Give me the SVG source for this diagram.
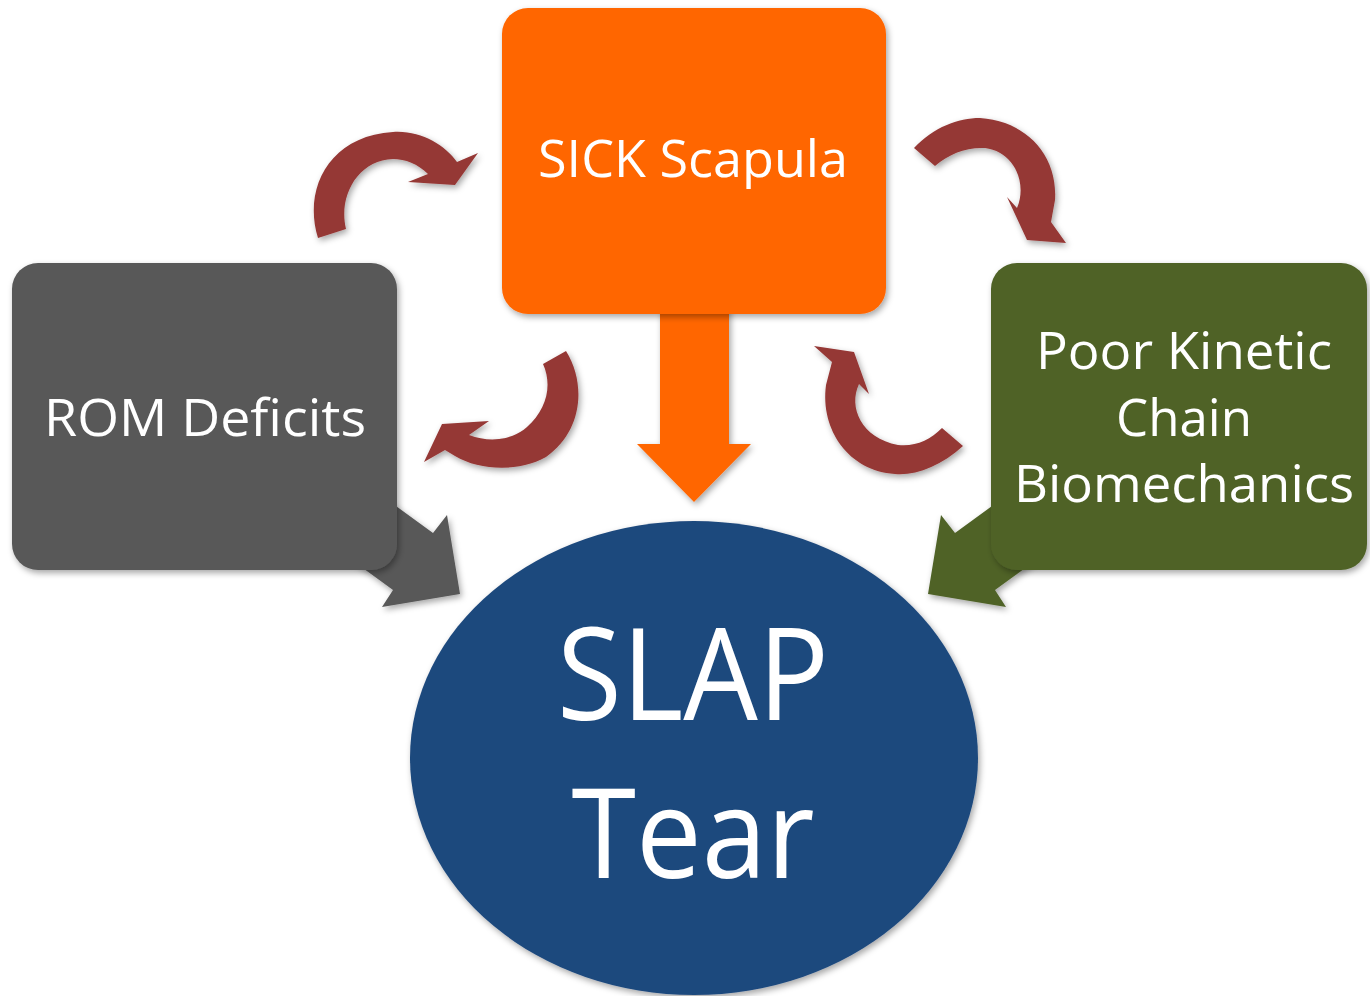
<svg xmlns="http://www.w3.org/2000/svg" width="1370" height="996" viewBox="0 0 1370 996">
<defs>
<filter id="sh" x="-20%" y="-20%" width="140%" height="140%">
<feDropShadow dx="2" dy="3" stdDeviation="3" flood-color="#000" flood-opacity="0.35"/>
</filter>
<style>
.lbl{font-family:"Open Sans","Noto Sans","DejaVu Sans",sans-serif;fill:#fff;text-anchor:middle}
.cyc{fill:#953735;filter:url(#sh)}
</style>
</defs>
<rect width="1370" height="996" fill="#fff"/>
<g id="connectors">
<polygon id="arrow-sick-slap" points="660,300 729,300 729,444 751,444 694,502 637,444 660,444" fill="#FF6600" filter="url(#sh)"/>
<polygon id="arrow-rom-slap" points="352,474 433,533 447,515 460,594 382,607 393,590 312,531" fill="#595959" filter="url(#sh)"/>
<polygon id="arrow-pkc-slap" points="1036,474 955,533 941,515 928,594 1006,607 995,590 1076,531" fill="#4F6228" filter="url(#sh)"/>
<path id="cyc-rom-sick" class="cyc" d="M318,238 C303,190 328,136 393,132 C420,130 445,145 457,162 L478,153 L455,185 L408,182 L428,174 C418,164 405,159 393,159 C358,160 338,196 346,229 Z"/>
<path id="cyc-sick-pkc" class="cyc" d="M914,148 C934,127 958,118 980,118 C1026,121 1058,155 1055,200 L1051,222 L1066,243 L1027,240 L1007,197 L1017,208 C1028,182 1013,151 985,148 C966,147 949,154 935,166 Z"/>
<path id="cyc-sick-rom" class="cyc" d="M566,351 C587,385 582,432 546,457 C520,472 480,471 455,456 L445,450 L424,462 L442,424 L489,421 L469,435 C490,443 512,440 527,427 C546,410 553,386 543,364 Z"/>
<path id="cyc-pkc-sick" class="cyc" d="M963,446 C941,466 915,476 895,474 C849,471 820,430 826,385 L832,362 L814,346 L854,352 L869,394 L859,384 C848,407 861,438 898,445 C915,447 930,440 942,428 Z"/>
</g>
<g id="node-sick">
<rect x="502" y="8" width="384" height="306" rx="26" fill="#FF6600" filter="url(#sh)"/>
<text class="lbl" x="693" y="177" font-size="52" textLength="310" lengthAdjust="spacingAndGlyphs">SICK Scapula</text>
</g>
<g id="node-rom">
<rect x="12" y="263" width="385" height="307" rx="26" fill="#595959" filter="url(#sh)"/>
<text class="lbl" x="205" y="436" font-size="52" textLength="322" lengthAdjust="spacingAndGlyphs">ROM Deficits</text>
</g>
<g id="node-pkc">
<rect x="991" y="263" width="376" height="307" rx="26" fill="#4F6228" filter="url(#sh)"/>
<text class="lbl" x="1184" y="369" font-size="52" textLength="296" lengthAdjust="spacingAndGlyphs">Poor Kinetic</text>
<text class="lbl" x="1184" y="436" font-size="52" textLength="136" lengthAdjust="spacingAndGlyphs">Chain</text>
<text class="lbl" x="1184" y="502" font-size="52" textLength="340" lengthAdjust="spacingAndGlyphs">Biomechanics</text>
</g>
<g id="node-slap">
<ellipse cx="694" cy="758" rx="284" ry="237" fill="#1F497D" filter="url(#sh)"/>
<text class="lbl" x="693" y="720" font-size="129" textLength="272" lengthAdjust="spacingAndGlyphs">SLAP</text>
<text class="lbl" x="693" y="878" font-size="125" textLength="243" lengthAdjust="spacingAndGlyphs">Tear</text>
</g>
</svg>
